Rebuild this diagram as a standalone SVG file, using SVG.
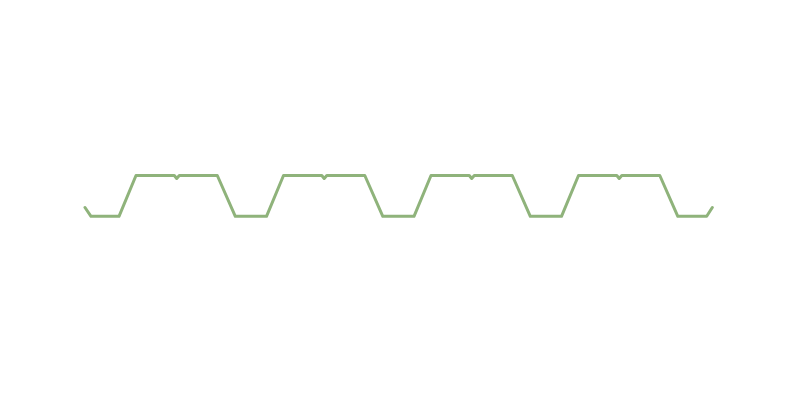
<svg xmlns="http://www.w3.org/2000/svg" width="788" height="408" viewBox="0 0 788 408">
<style>
.profile{fill:none;stroke:#8fb37b;stroke-width:3;stroke-linejoin:round;stroke-linecap:round}
</style>
<rect width="788" height="408" fill="#ffffff"/>
<g id="profile">
<path class="profile" d="M85,207.5 L91,216.3 L119,216.3 L136,175.5 L174.3,175.5 L176.7,178.5 L179.3,175.5 L217.3,175.5 L235.3,216.3 L266.5,216.3 L283.5,175.5 L321.8,175.5 L324.2,178.5 L326.8,175.5 L364.8,175.5 L382.8,216.3 L414,216.3 L431,175.5 L469.3,175.5 L471.7,178.5 L474.3,175.5 L512.3,175.5 L530.3,216.3 L561.5,216.3 L578.5,175.5 L616.8,175.5 L619.2,178.5 L621.8,175.5 L659.8,175.5 L677.8,216.3 L706.7,216.3 L712.3,207.5"/>
</g>
</svg>
